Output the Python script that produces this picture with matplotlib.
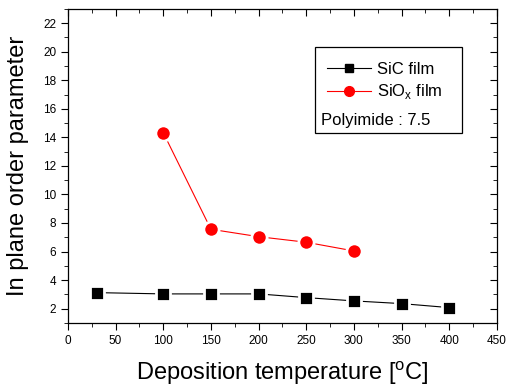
import numpy as np
import matplotlib.pyplot as plt
from matplotlib.patches import Rectangle
from matplotlib.lines import Line2D
from matplotlib.ticker import MultipleLocator

plt.rcParams['font.family'] = ['Liberation Sans', 'DejaVu Sans']
plt.rcParams['mathtext.fontset'] = 'custom'
plt.rcParams['mathtext.rm'] = 'Liberation Sans'

# data
sic_temp = [30, 100, 150, 200, 250, 300, 350, 400]
sic_val = [3.12, 3.03, 3.03, 3.03, 2.77, 2.54, 2.35, 2.07]
siox_temp = [100, 150, 200, 250, 300]
siox_val = [14.33, 7.56, 7.04, 6.65, 6.04]

fig = plt.figure(figsize=(5.07, 3.89), dpi=100)
ax = fig.add_axes([0.134, 0.170, 0.846, 0.807])

ax.plot(sic_temp, sic_val, color='black', lw=0.8, marker='s', ms=10,
        mfc='black', mec='white', mew=2.0)
ax.plot(siox_temp, siox_val, color='red', lw=0.8, marker='o', ms=11,
        mfc='red', mec='white', mew=2.0)

ax.set_xlim(0, 450)
ax.set_ylim(1, 23)
ax.xaxis.set_major_locator(MultipleLocator(50))
ax.xaxis.set_minor_locator(MultipleLocator(25))
ax.yaxis.set_minor_locator(MultipleLocator(1))
ax.set_yticks(np.arange(2, 23, 2))

ax.tick_params(which='both', direction='out', labelsize=8.5, color='black')
ax.tick_params(which='major', length=5)
ax.tick_params(which='minor', length=3)
ax.tick_params(which='both', top=True, right=True)
# top and right ticks point inward
for t in ax.xaxis.get_major_ticks() + ax.xaxis.get_minor_ticks():
    t.tick2line.set_marker(3)
for t in ax.yaxis.get_major_ticks() + ax.yaxis.get_minor_ticks():
    t.tick2line.set_marker(0)
for s in ax.spines.values():
    s.set_linewidth(0.9)

ax.set_xlabel('Deposition temperature [$^{\\mathregular{o}}$C]', fontsize=17, labelpad=9)
ax.set_ylabel('In plane order parameter', fontsize=17, labelpad=10)

# legend box
ax.add_patch(Rectangle((0.576, 0.605), 0.342, 0.274, transform=ax.transAxes,
                       fill=False, ec='black', lw=0.9, zorder=5))
handles = [Line2D([], [], color='black', lw=0.8, marker='s', ms=6),
           Line2D([], [], color='red', lw=0.8, marker='o', ms=7)]
ax.legend(handles, ['SiC film', 'SiO$_{\\mathregular{x}}$ film'], frameon=False,
          loc='upper left', bbox_to_anchor=(0.57, 0.88), fontsize=12,
          handlelength=2.6, handletextpad=0.4, labelspacing=0.35)
ax.text(0.59, 0.645, 'Polyimide : 7.5', transform=ax.transAxes, fontsize=12,
        ha='left', va='center')

fig.savefig('out.png', dpi=100)
